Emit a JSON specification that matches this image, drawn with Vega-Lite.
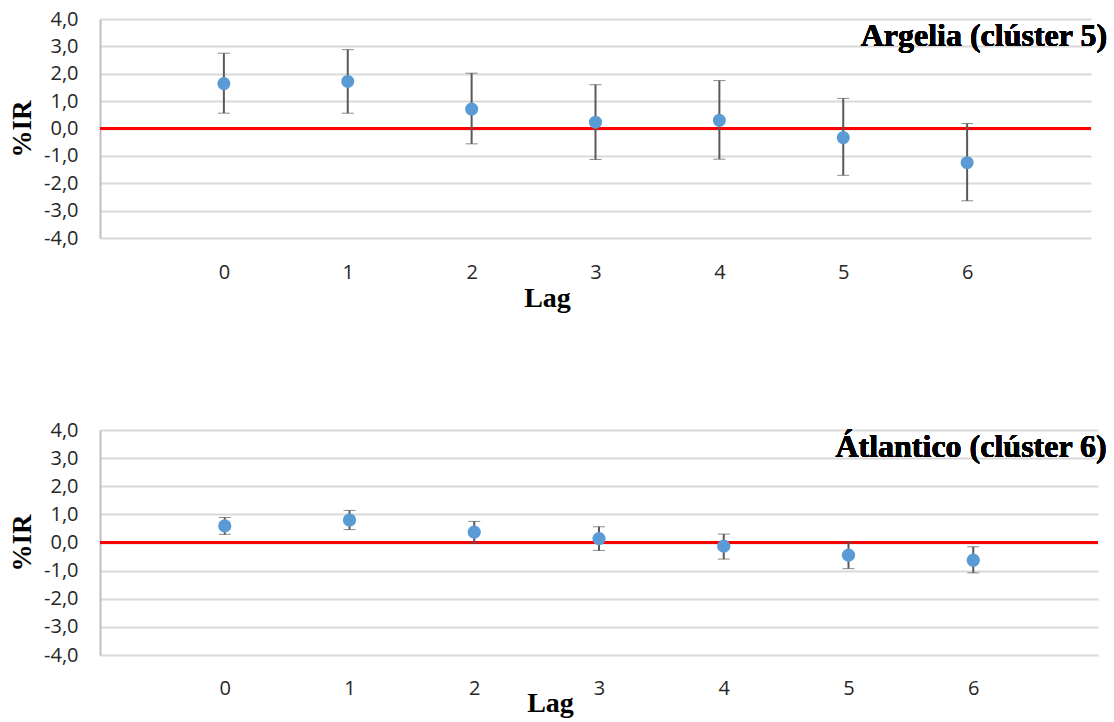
{
  "$schema": "https://vega.github.io/schema/vega-lite/v6.json",
  "padding": {"top": 9, "left": 8, "right": 4, "bottom": 3},
  "background": "white",
  "columns": 1,
  "align": "none",
  "spacing": 108,
  "datasets": {
    "argelia": [
      {"lag": 0, "ir": 1.64, "lo": 0.56, "hi": 2.75},
      {"lag": 1, "ir": 1.72, "lo": 0.56, "hi": 2.88},
      {"lag": 2, "ir": 0.71, "lo": -0.56, "hi": 2.02},
      {"lag": 3, "ir": 0.23, "lo": -1.13, "hi": 1.60},
      {"lag": 4, "ir": 0.30, "lo": -1.12, "hi": 1.75},
      {"lag": 5, "ir": -0.33, "lo": -1.71, "hi": 1.10},
      {"lag": 6, "ir": -1.25, "lo": -2.64, "hi": 0.18}
    ],
    "atlantico": [
      {"lag": 0, "ir": 0.59, "lo": 0.29, "hi": 0.89},
      {"lag": 1, "ir": 0.80, "lo": 0.46, "hi": 1.14},
      {"lag": 2, "ir": 0.37, "lo": -0.01, "hi": 0.75},
      {"lag": 3, "ir": 0.14, "lo": -0.28, "hi": 0.56},
      {"lag": 4, "ir": -0.13, "lo": -0.59, "hi": 0.30},
      {"lag": 5, "ir": -0.45, "lo": -0.93, "hi": 0.01},
      {"lag": 6, "ir": -0.63, "lo": -1.08, "hi": -0.15}
    ]
  },
  "config": {
    "view": {"stroke": null},
    "axis": {
      "labelFont": "Open Sans",
      "labelFontSize": 20,
      "labelColor": "#262626",
      "titleFont": "Liberation Serif",
      "titleFontWeight": "bold",
      "titleColor": "black"
    },
    "axisY": {
      "labelOverlap": false,
      "titleFontSize": 27,
      "titlePadding": 7,
      "domainColor": "#bfbfbf",
      "domainWidth": 2,
      "ticks": false,
      "grid": true,
      "gridColor": "#d9d9d9",
      "gridWidth": 2,
      "labelPadding": 22
    }
  },
  "concat": [
    {
      "width": 991,
      "height": 219,
      "data": {"name": "argelia"},
      "encoding": {
        "x": {
          "field": "lag",
          "type": "quantitative",
          "scale": {"domain": [-1, 7], "nice": false, "zero": false},
          "axis": {
            "values": [0, 1, 2, 3, 4, 5, 6],
            "title": "Lag",
            "titleFontSize": 28,
            "titleBaseline": "middle",
            "titleX": 447,
            "titleY": 60,
            "domain": false,
            "ticks": false,
            "grid": false,
            "labelPadding": 24,
            "labelFlush": false
          }
        }
      },
      "layer": [
        {
          "mark": {"type": "rule", "color": "#ff0000", "strokeWidth": 2.5},
          "encoding": {
            "x": null,
            "y": {"datum": 0, "type": "quantitative", "title": "%IR", "scale": {"domain": [-4, 4], "nice": false},
              "axis": {"values": [-4, -3, -2, -1, 0, 1, 2, 3, 4], "labelExpr": "replace(replace(format(datum.value, '.1f'), '.', ','), '\u2212', '-')"}}
          }
        },
        {
          "mark": {
            "type": "errorbar",
            "rule": {"color": "#595959", "strokeWidth": 2},
            "ticks": {"color": "#595959", "strokeWidth": 2, "size": 12}
          },
          "encoding": {
            "y": {"field": "lo", "type": "quantitative", "title": "%IR",
              "axis": {"values": [-4, -3, -2, -1, 0, 1, 2, 3, 4], "labelExpr": "replace(replace(format(datum.value, '.1f'), '.', ','), '\u2212', '-')"}},
            "y2": {"field": "hi"}
          }
        },
        {
          "mark": {"type": "point", "filled": true, "shape": "circle", "size": 170, "color": "#5b9bd5", "opacity": 1},
          "encoding": {
            "y": {"field": "ir", "type": "quantitative", "title": "%IR",
              "axis": {"values": [-4, -3, -2, -1, 0, 1, 2, 3, 4], "labelExpr": "replace(replace(format(datum.value, '.1f'), '.', ','), '\u2212', '-')"}}
          }
        },
        {
          "mark": {"type": "text", "align": "right", "baseline": "alphabetic", "font": "Liberation Serif", "fontWeight": "bold", "fontSize": 32, "color": "black", "text": "Argelia (clúster 5)"},
          "encoding": {
            "x": {"datum": 7.13, "type": "quantitative"},
            "y": {"datum": 3.0, "type": "quantitative", "title": "%IR",
              "axis": {"values": [-4, -3, -2, -1, 0, 1, 2, 3, 4], "labelExpr": "replace(replace(format(datum.value, '.1f'), '.', ','), '\u2212', '-')"}}
          }
        }
      ]
    },
    {
      "width": 998,
      "height": 225,
      "data": {"name": "atlantico"},
      "encoding": {
        "x": {
          "field": "lag",
          "type": "quantitative",
          "scale": {"domain": [-1, 7], "nice": false, "zero": false},
          "axis": {
            "values": [0, 1, 2, 3, 4, 5, 6],
            "title": "Lag",
            "titleFontSize": 28,
            "titleBaseline": "middle",
            "titleX": 450,
            "titleY": 48,
            "domain": false,
            "ticks": false,
            "grid": false,
            "labelPadding": 23,
            "labelFlush": false
          }
        }
      },
      "layer": [
        {
          "mark": {"type": "rule", "color": "#ff0000", "strokeWidth": 2.5},
          "encoding": {
            "x": null,
            "y": {"datum": 0, "type": "quantitative", "title": "%IR", "scale": {"domain": [-4, 4], "nice": false},
              "axis": {"values": [-4, -3, -2, -1, 0, 1, 2, 3, 4], "labelExpr": "replace(replace(format(datum.value, '.1f'), '.', ','), '\u2212', '-')"}}
          }
        },
        {
          "mark": {
            "type": "errorbar",
            "rule": {"color": "#595959", "strokeWidth": 2},
            "ticks": {"color": "#595959", "strokeWidth": 2, "size": 12}
          },
          "encoding": {
            "y": {"field": "lo", "type": "quantitative", "title": "%IR",
              "axis": {"values": [-4, -3, -2, -1, 0, 1, 2, 3, 4], "labelExpr": "replace(replace(format(datum.value, '.1f'), '.', ','), '\u2212', '-')"}},
            "y2": {"field": "hi"}
          }
        },
        {
          "mark": {"type": "point", "filled": true, "shape": "circle", "size": 175, "color": "#5b9bd5", "opacity": 1},
          "encoding": {
            "y": {"field": "ir", "type": "quantitative", "title": "%IR",
              "axis": {"values": [-4, -3, -2, -1, 0, 1, 2, 3, 4], "labelExpr": "replace(replace(format(datum.value, '.1f'), '.', ','), '\u2212', '-')"}}
          }
        },
        {
          "mark": {"type": "text", "align": "right", "baseline": "alphabetic", "font": "Liberation Serif", "fontWeight": "bold", "fontSize": 32, "color": "black", "text": "Átlantico (clúster 6)"},
          "encoding": {
            "x": {"datum": 7.07, "type": "quantitative"},
            "y": {"datum": 3.05, "type": "quantitative", "title": "%IR",
              "axis": {"values": [-4, -3, -2, -1, 0, 1, 2, 3, 4], "labelExpr": "replace(replace(format(datum.value, '.1f'), '.', ','), '\u2212', '-')"}}
          }
        }
      ]
    }
  ]
}
